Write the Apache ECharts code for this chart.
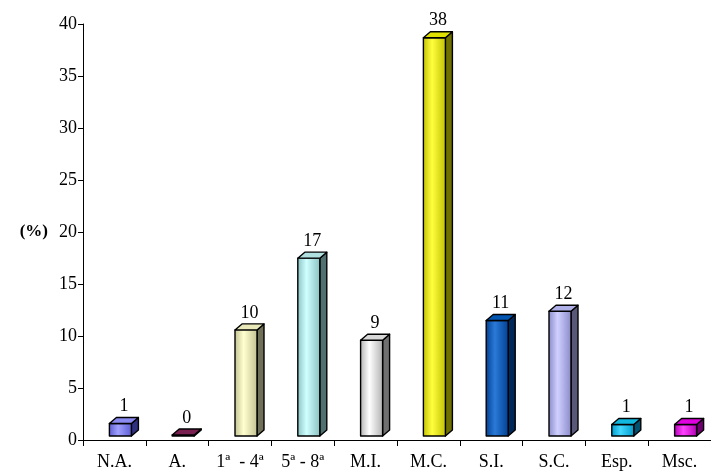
<!DOCTYPE html>
<html>
<head>
<meta charset="utf-8">
<script src="https://cdn.jsdelivr.net/npm/echarts@6/dist/echarts.min.js"></script>
<style>
html,body{margin:0;padding:0;background:#fff;}
#chart{width:711px;height:473px;}
</style>
</head>
<body>
<div id="chart"></div>
<script>
const categories = ['N.A.', 'A.', '1ª  - 4ª', '5ª - 8ª', 'M.I.', 'M.C.', 'S.I.', 'S.C.', 'Esp.', 'Msc.'];
const values = [1.2, 0.1, 10.2, 17.1, 9.2, 38.3, 11.1, 12.0, 1.1, 1.1];
const yTicks = [0, 5, 10, 15, 20, 25, 30, 35, 40];

// [front dark edge, front light, top, side]
const palette = [
  ['#5a5ad0', '#a0a0ff', '#8a8af0', '#303080'],
  ['#6a1840', '#8a3060', '#7a2050', '#401030'],
  ['#c0c090', '#ffffd0', '#e8e8b8', '#707058'],
  ['#88c0c0', '#d0ffff', '#b0e0e0', '#507070'],
  ['#b0b0b0', '#ffffff', '#d8d8d8', '#707070'],
  ['#c0c000', '#ffff40', '#e0e000', '#707000'],
  ['#003f90', '#2a7ad8', '#0055b0', '#002858'],
  ['#8888c8', '#d0d0ff', '#b0b0e8', '#585878'],
  ['#0098c8', '#40d8ff', '#10b8e0', '#005070'],
  ['#b000b0', '#ff40ff', '#e000e0', '#700070']
];

const chart = echarts.init(document.getElementById('chart'), null, {renderer: 'canvas'});
const font = 'Liberation Serif, Times New Roman, serif';

chart.setOption({
  backgroundColor: '#ffffff',
  animation: false,
  grid: {left: 83, top: 24, bottom: 33, width: 633, containLabel: false},
  xAxis: {
    type: 'category',
    data: categories,
    boundaryGap: true,
    axisLine: {show: true, lineStyle: {color: '#000', width: 1}},
    axisTick: {show: true, alignWithLabel: false, length: 6, lineStyle: {color: '#000'}},
    axisLabel: {color: '#000', fontFamily: font, fontSize: 18, margin: 13, interval: 0}
  },
  yAxis: {
    type: 'value',
    min: 0, max: 40, interval: 5,
    name: '(%)',
    nameLocation: 'middle',
    nameRotate: 0,
    nameGap: 35,
    nameTextStyle: {color: '#000', fontFamily: font, fontSize: 17, fontWeight: 'bold'},
    axisLine: {show: true, lineStyle: {color: '#000', width: 1}},
    axisTick: {show: true, length: 5, lineStyle: {color: '#000'}},
    splitLine: {show: false},
    axisLabel: {color: '#000', fontFamily: font, fontSize: 18, margin: 6,
      formatter: v => yTicks.includes(v) ? String(v) : ''}
  },
  series: [{
    type: 'custom',
    data: values.map((v, i) => [i, v]),
    renderItem: function (params, api) {
      const i = api.value(0), v = api.value(1);
      const base = api.coord([i, 0]);
      const topP = api.coord([i, v]);
      const lift = 4, w = 22, dx = 7, dy = 6;
      const x0 = base[0] - 5;
      const yb = base[1] - lift;
      const yt = Math.min(topP[1] - lift, yb - 1);
      const c = palette[i];
      const stroke = {stroke: '#000', lineWidth: 1.4, lineJoin: 'round'};
      return {
        type: 'group',
        children: [
          {type: 'polygon', shape: {points: [[x0 + w, yb], [x0 + w + dx, yb - dy], [x0 + w + dx, yt - dy], [x0 + w, yt]]},
            style: Object.assign({fill: c[3]}, stroke)},
          {type: 'rect', shape: {x: x0, y: yt, width: w, height: yb - yt},
            style: Object.assign({fill: new echarts.graphic.LinearGradient(0, 0, 1, 0, [
              {offset: 0, color: c[0]}, {offset: 0.4, color: c[1]}, {offset: 1, color: c[0]}])}, stroke)},
          {type: 'polygon', shape: {points: [[x0, yt], [x0 + dx, yt - dy], [x0 + w + dx, yt - dy], [x0 + w, yt]]},
            style: Object.assign({fill: c[2]}, stroke)},
          {type: 'text', x: x0 + (w + dx) / 2, y: yt - dy - 2,
            style: {text: String(Math.round(v)), fill: '#000', font: '18px ' + font, align: 'center', verticalAlign: 'bottom'}}
        ]
      };
    }
  }]
});
</script>
</body>
</html>
